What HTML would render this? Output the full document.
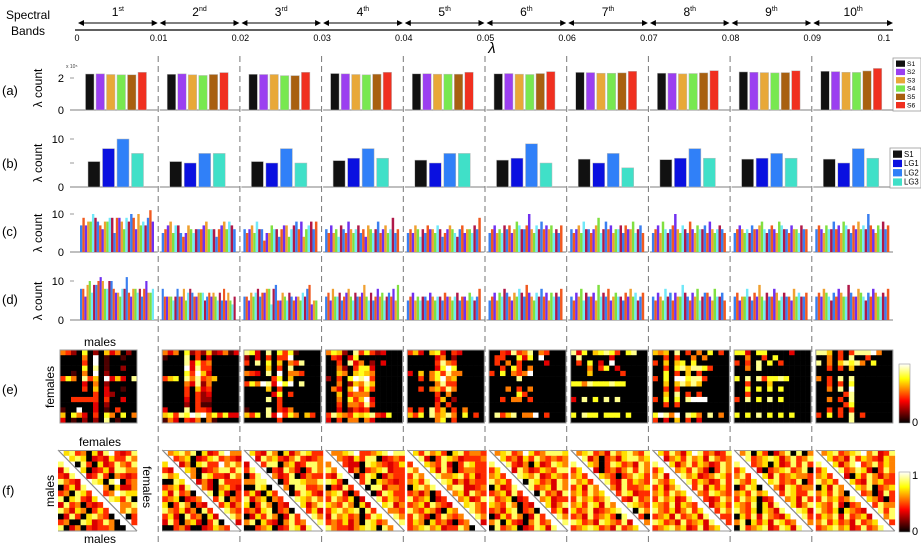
<!DOCTYPE html>
<html><head><meta charset="utf-8"><style>
html,body{margin:0;padding:0;background:#fff;}
svg{display:block;font-family:"Liberation Sans",sans-serif;}
</style></head><body>
<svg id="fig" width="921" height="545" viewBox="0 0 921 545">
<defs>
<linearGradient id="hotg" x1="0" y1="1" x2="0" y2="0">
<stop offset="0" stop-color="#000"/><stop offset="0.375" stop-color="#f00"/><stop offset="0.75" stop-color="#ff0"/><stop offset="1" stop-color="#fff"/>
</linearGradient>
<marker id="ah" markerWidth="6" markerHeight="6" refX="5" refY="3" orient="auto"><path d="M0,0 L6,3 L0,6 z" fill="#000"/></marker>
<marker id="ahs" markerWidth="6" markerHeight="6" refX="1" refY="3" orient="auto"><path d="M6,0 L0,3 L6,6 z" fill="#000"/></marker>
</defs>
<g id="static">
<text x="28" y="19" font-size="12" text-anchor="middle">Spectral</text>
<text x="28" y="35" font-size="12" text-anchor="middle">Bands</text>
<line x1="75" y1="30" x2="893" y2="30" stroke="#000" stroke-width="1.2"/>
<text x="492" y="53" font-size="15" font-style="italic" text-anchor="middle">λ</text>
<text x="2" y="95" font-size="13">(a)</text>
<text x="2" y="168" font-size="13">(b)</text>
<text x="2" y="236" font-size="13">(c)</text>
<text x="2" y="304" font-size="13">(d)</text>
<text x="2" y="394" font-size="13">(e)</text>
<text x="2" y="495" font-size="13">(f)</text>
<text transform="translate(42,88) rotate(-90)" font-size="12" text-anchor="middle">λ count</text>
<text transform="translate(42,163) rotate(-90)" font-size="12" text-anchor="middle">λ count</text>
<text transform="translate(42,233) rotate(-90)" font-size="12" text-anchor="middle">λ count</text>
<text transform="translate(42,301) rotate(-90)" font-size="12" text-anchor="middle">λ count</text>
<text x="66" y="68" font-size="5" fill="#444">x 10⁵</text>
<text x="100" y="346" font-size="12" text-anchor="middle">males</text>
<text transform="translate(54,387) rotate(-90)" font-size="12" text-anchor="middle">females</text>
<text x="100" y="446" font-size="12" text-anchor="middle">females</text>
<text transform="translate(54,491) rotate(-90)" font-size="12" text-anchor="middle">males</text>
<text transform="translate(143,487) rotate(90)" font-size="12" text-anchor="middle">females</text>
<text x="100" y="543" font-size="12" text-anchor="middle">males</text>
<rect x="899" y="364" width="11" height="59" fill="url(#hotg)" stroke="#999" stroke-width="0.6"/>
<text x="912" y="426" font-size="11">0</text>
<rect x="899" y="472" width="11" height="60" fill="url(#hotg)" stroke="#999" stroke-width="0.6"/>
<text x="912" y="479" font-size="11">1</text>
<text x="912" y="535" font-size="11">0</text>
</g>
</svg>
<script>
const bandOrd=["1","2","3","4","5","6","7","8","9","10"];
const bandSup=["st","nd","rd","th","th","th","th","th","th","th"];
const lambdaTicks=["0","0.01","0.02","0.03","0.04","0.05","0.06","0.07","0.08","0.09","0.1"];
const seriesA=["S1","S2","S3","S4","S5","S6"];
const valuesA=[
[2.25,2.26,2.22,2.20,2.20,2.36],[2.23,2.26,2.20,2.16,2.22,2.34],[2.23,2.22,2.22,2.15,2.15,2.36],
[2.28,2.26,2.22,2.20,2.24,2.36],[2.26,2.27,2.24,2.24,2.24,2.36],[2.26,2.28,2.24,2.22,2.28,2.40],
[2.35,2.34,2.30,2.30,2.32,2.42],[2.30,2.30,2.26,2.28,2.32,2.46],[2.38,2.36,2.34,2.32,2.34,2.45],
[2.42,2.40,2.36,2.35,2.44,2.60]];
const seriesB=["S1","LG1","LG2","LG3"];
const valuesB=[[5.3,8,10,7],[5.3,5,7,7],[5.3,5,8,5],[5.5,6,8,6],[5.6,5,7,7],[5.6,6,9,5],[5.8,5,7,4],[5.7,6,8,6],[5.8,6,7,6],[5.8,5,8,6]];
const valuesC=[
[7,9,7,8,8,10,9,8,7,6,8,8,9,9,5,9,9,8,6,9,8,10,9,6,10,7,8,7,9,11,8],
[5,6,7,8,5,7,7,5,4,5,7,6,5,6,6,6,7,8,6,6,6,4,6,7,8,6,8,7,6],
[6,5,6,7,5,8,6,6,3,5,5,7,6,6,4,6,7,7,4,6,7,8,6,8,4,6,7,8,6,8],
[6,5,7,5,6,4,7,6,5,8,6,5,6,7,5,6,4,7,6,5,6,8,5,6,7,5,6,9,5,6],
[5,6,5,7,6,4,6,5,7,6,6,5,7,6,4,5,6,7,6,5,4,6,7,5,6,6,5,7,6,9],
[5,6,7,5,6,5,7,6,7,5,6,8,7,6,6,7,10,6,5,7,6,8,6,7,6,7,5,6,5,7],
[6,5,6,7,5,8,6,6,5,6,7,9,5,6,8,6,7,5,6,6,7,5,7,6,6,8,5,6,7,5],
[5,6,7,5,8,6,5,6,7,10,6,5,7,6,5,8,6,5,7,6,6,7,5,8,6,5,6,7,6,5],
[5,6,7,6,5,6,5,7,6,6,7,8,6,5,6,7,6,5,8,7,6,6,5,7,6,6,5,7,6,6],
[6,7,6,5,7,6,6,8,6,7,5,8,7,6,5,7,6,8,6,7,6,10,7,6,5,7,6,8,6,7]];
const valuesD=[
[8,8,6,9,10,7,9,9,10,11,10,8,8,10,10,8,7,7,6,8,8,11,7,6,8,8,7,8,6,8,10,7,7,8],
[8,6,6,6,6,5,6,8,6,6,8,5,7,8,7,6,6,7,7,7,5,6,7,6,7,6,5,7,5,8,5,7,5,4,6],
[6,6,5,7,6,7,8,6,7,7,8,8,4,8,9,5,5,7,6,5,7,6,5,6,6,5,7,6,8,9,4,5,5],
[6,7,5,8,6,6,7,5,6,7,8,6,5,7,6,6,7,9,6,5,7,5,6,8,6,7,5,6,7,6,8,5,9],
[5,6,7,5,6,5,6,6,5,7,6,5,6,6,5,7,6,6,5,6,7,5,6,6,5,7,6,5,6,8],
[5,6,7,5,7,6,8,7,6,5,7,6,8,7,6,9,7,6,5,7,6,8,6,7,5,7,6,7,6,8],
[6,5,7,6,8,5,7,6,6,7,5,9,6,7,6,8,5,6,7,6,6,5,7,6,8,6,7,5,6,7],
[6,5,7,6,5,8,6,7,5,7,6,6,9,7,6,5,7,6,8,5,6,7,7,6,5,8,6,6,7,5],
[6,7,5,6,6,8,6,5,7,6,9,6,5,7,6,6,8,7,5,6,7,6,6,5,8,6,7,6,6,7],
[6,7,6,8,7,6,5,7,6,8,7,6,6,9,7,6,6,8,7,6,5,7,6,8,7,6,6,7,6,8]];
const mapsE=[
["54207020635020","00005090100100","00004090100000","00007080100200","00105090200000","47508460936308","00003050200000","00004060300100","00000040320000","00444440400300","00000030200000","10090030104000","60753040750705","30102020801000"],
["53507242623513","10008040300000","00008374500000","00009384400000","00007496300000","46708584560000","00005382500000","00004063400000","00004042300000","00003042200000","00002041100000","30008044300000","67487989574733","15304350510000"],
["87308074710000","20304044900000","40807060548000","00006040800000","54308090554000","00000470600000","47598397908000","00006040000000","00000370400000","00008040000000","00000040000000","10008043500000","64708394750640","00000040000000"],
["57620847423000","04303700000000","00408350203000","00520477300000","00650676500000","20407989400000","00502658600000","05306947400000","00604555000000","00507469300000","00405548400000","00302434000000","48654767843700","30405505300000"],
["46306730430000","00000350200000","00000485400000","00000379700000","30605748550000","00405795600000","00000584400000","00405648500000","00000405000000","00000360200000","00000404000000","40408460405000","64708568507040","00000570400000"],
["00438458054000","04400737090000","04050400003000","00407405000000","40705459000000","00000800000000","00000000000000","00050405000000","00000740000000","00405504000000","00000000000000","00000000000000","08468055904000","00000000000000"],
["83706787407800","08000003000000","04070309000000","00050470300000","00060000040000","00000000000000","77587778770000","00000000000000","00000000000000","30807080800000","00000000000000","00000000000000","70877077707000","00000000000000"],
["65608040507040","00404005050000","40606707000000","00407868874000","00704060400000","40709978840000","00606868600000","00404000000000","00608040400000","40707089990000","00404000000000","00000000000000","79859087508050","40306040300000"],
["77307700003000","00500407000000","40408070400000","00508000000000","00000000000000","70808477870000","00400060000000","00707070700000","00400000000000","40807080700000","00000000000000","00000000000000","70708070707000","00000000000000"],
["88604048889500","00504080040000","80506878507000","00404060000000","00000000000000","50408080000000","00404070000000","00508090000000","00000480000000","00504080000000","00000470000000","00404040000000","40704080400000","00000080000000"]];
const mapsF=[
["57856074895458","56787045475586","86708507458658","48567045748866","54876458506545","86546787089056","05748689607446","56087558569877","80785478587580","48560545789668","86476057587686","04850786504505","56008745860475","80460545560000"],
["56786807458966","48567045785654","75846078559686","54087604568858","86754608755486","00870546408555","56748056406754","74856045807405","56704564058065","70586054055746","86574608574865","57408560740586","48506740580674","00564004576500"],
["67548607468755","75486754685456","46758806745886","58670548640586","05874645804655","66880005887668","00870456088556","57407568058754","84670654087686","70586054057468","56478056086574","04758604857686","68075406856888","00567045874867"],
["56678955678988","48654758804565","67854408765457","86754605678455","54867058704655","87504658076545","05485670884665","67840567048755","58657046085765","76586074557846","57867808574665","48675605874686","56574608756488","86554678708664"],
["67586750785665","75840587645556","55676584058755","86757485056655","58604866785745","67585087464655","07868056884456","56460558674865","85670458067458","56748654407865","86576407684865","58640586567486","57607564056874","56786745586074"],
["56785697568887","68756475865656","86785460745876","57684864576588","67560876845765","86754608756486","07458608567486","56748564085648","85670458067455","76586054057468","56478056086574","04758604857686","68075406856888","08567045874867"],
["56785648678658","75846056478867","86476058756486","57864056468586","67584765056875","86756485485765","57486756485567","67586740587455","58675687054856","67587486058765","75684567856086","56485675086750","87564876584086","56787564856706"],
["67586479856458","58467586748656","86574685764586","57486758640586","68475867456875","86574685764585","57468675847575","67586748658765","58674586754586","76584765864675","86574685746586","56748567486755","87564856748675","56786745846785"],
["56807504680806","07856787468568","86756707458585","57864056785680","68575748567665","86570478565805","05870756487566","67586704587558","58670457067485","76580748567468","86570764856874","07584865475685","68075748756876","08567845874867"],
["56785678968458","68756485765476","86574689568576","57408568740586","67568407586465","86754675486755","07486857680567","67586074560485","58675680576405","76584056745866","86570765486858","57684856748668","68575648567485","56786745856874"]];
</script>
<script>
const svg=document.getElementById('fig');
const NS='http://www.w3.org/2000/svg';
function mk(tag,attrs,parent){const e=document.createElementNS(NS,tag);for(const k in attrs)e.setAttribute(k,attrs[k]);(parent||svg).appendChild(e);return e;}
const X0=77,BW=81.7;
function bandX(i){return X0+i*BW;}
function hot(t){const r=Math.min(1,t/0.375),g=Math.max(0,Math.min(1,(t-0.375)/0.375)),b=Math.max(0,Math.min(1,(t-0.75)/0.25));return `rgb(${Math.round(r*255)},${Math.round(g*255)},${Math.round(b*255)})`;}
const colA=["#111","#9b3ff0","#e8a838","#78e850","#a86010","#f03020"];
const colB=["#111","#0a10e0","#3080f8","#40e0c8"];
const colC=["#3a7ff0","#f05a20","#7030f0","#f0a030","#80e040","#70e8f8","#b01848"];

for(let i=0;i<10;i++){
  const cx=bandX(i)+BW/2;
  const t=mk('text',{x:cx,y:16,'font-size':12,'text-anchor':'middle'});
  
  
  t.textContent=bandOrd[i];
  const s=mk('tspan',{'font-size':7,dy:-5},t);s.textContent=bandSup[i];
  const a=mk('line',{x1:bandX(i)+2,y1:23,x2:bandX(i)+BW-2,y2:23,stroke:'#000','stroke-width':1,'marker-end':'url(#ah)','marker-start':'url(#ahs)'});
  
  
}
for(let i=0;i<lambdaTicks.length;i++){
  const t=mk('text',{x:Math.min(bandX(i),884),y:41,'font-size':9,'text-anchor':'middle'});
  
  
  t.textContent=lambdaTicks[i];
}
for(let i=1;i<10;i++){
  const l=mk('line',{x1:bandX(i)-0.5,y1:56,x2:bandX(i)-0.5,y2:545,stroke:'#777','stroke-width':1,'stroke-dasharray':'6,4'});
  
  
}
function yAxis(y0,yTop,labels,vals,scale){
  for(let k=0;k<labels.length;k++){
    const y=y0-vals[k]*scale;
    const t=mk('text',{x:64,y:y+4,'font-size':11,'text-anchor':'end'});
    
    
    t.textContent=labels[k];
    mk('line',{x1:70,y1:y,x2:74,y2:y,stroke:'#999','stroke-width':1});
  }
}
function baselines(y0,name){
  for(let i=0;i<10;i++){
    const l=mk('line',{x1:i==0?70:bandX(i)+1,y1:y0,x2:bandX(i)+BW-1,y2:y0,stroke:'#999','stroke-width':1.2});
    
    
  }
}
const yA0=110;
baselines(yA0,'baseline-a');
yAxis(yA0,0,["2","0"],[2,0],16);
for(let i=0;i<10;i++)for(let j=0;j<6;j++){
  const v=valuesA[i][j],h=v*16;
  const r=mk('rect',{x:bandX(i)+8.5+j*10.5,y:yA0-h,width:8.5,height:h,fill:colA[j],stroke:'#bbb','stroke-width':0.5});
  
  
}
const yB0=187,scB=4.8;
baselines(yB0,'baseline-b');
yAxis(yB0,0,["10","0"],[10,0],scB);
mk('line',{x1:70,y1:yB0-5*scB,x2:74,y2:yB0-5*scB,stroke:'#999'});
for(let i=0;i<10;i++)for(let j=0;j<4;j++){
  const h=valuesB[i][j]*scB;
  const r=mk('rect',{x:bandX(i)+11+j*14.5,y:yB0-h,width:12,height:h,fill:colB[j],stroke:'#bbb','stroke-width':0.5});
  
  
}
function many(vals,y0,sc,name){
  baselines(y0,'baseline-'+name);
  yAxis(y0,0,["10","0"],[10,0],sc);
  for(let i=0;i<10;i++){const n=vals[i].length,pw=74/n;
    for(let j=0;j<n;j++){const h=vals[i][j]*sc;
      const r=mk('rect',{x:bandX(i)+3+j*pw,y:y0-h,width:pw,height:h,fill:colC[j%7]});
      
      
    }}
}
many(valuesC,252,3.8,'c');
many(valuesD,320,3.9,'d');
function legend(x,y,w,h,names,cols,pitch,nm){
  const g=mk('g',{});
  
  
  mk('rect',{x:x,y:y,width:w,height:h,fill:'#fff',stroke:'#999','stroke-width':0.8},g);
  names.forEach((n,k)=>{
    const yy=y+2.5+k*pitch;
    mk('rect',{x:x+3,y:yy,width:9,height:pitch-2,fill:cols[k]},g);
    const t=mk('text',{x:x+14,y:yy+pitch-3,'font-size':pitch-1.5},g);t.textContent=n;
  });
}
legend(893,58,28,53,seriesA,colA,8.3,'legend-a');
legend(890,148,31,40,seriesB,colB,9.3,'legend-b');
for(let i=0;i<10;i++){
  const m=mapsE[i],n=m.length,x=i==0?60:bandX(i)+3.5,y=350,W=77,H=73,cw=W/n,ch=H/n;
  const g=mk('g',{});
  
  
  for(let r=0;r<n;r++)for(let c=0;c<n;c++){
    mk('rect',{x:x+c*cw,y:y+r*ch,width:cw+0.3,height:ch+0.3,fill:hot(+m[r][c]/9)},g);
  }
  mk('rect',{x:x,y:y,width:W,height:H,fill:'none',stroke:'#999','stroke-width':1},g);
}
for(let i=0;i<10;i++){
  const m=mapsF[i],n=m.length,x=i==0?58:bandX(i)+3.5,y=450,W=79,H=81,cw=W/n,ch=H/n;
  const g=mk('g',{});
  
  
  for(let r=0;r<n;r++)for(let c=0;c<n;c++){
    const white=(r==c||r==c+1);
    mk('rect',{x:x+c*cw,y:y+r*ch,width:cw+0.3,height:ch+0.3,fill:white?'#fff':hot(Math.pow(+m[r][c]/9,1.4))},g);
  }
  mk('line',{x1:x,y1:y,x2:x+W,y2:y+H,stroke:'#888','stroke-width':1.2},g);
  mk('line',{x1:x,y1:y+0.5,x2:x+W,y2:y+0.5,stroke:'#999','stroke-width':1},g);
  mk('line',{x1:x,y1:y+H,x2:x+W,y2:y+H,stroke:'#999','stroke-width':1},g);
}
</script>
</body></html>
